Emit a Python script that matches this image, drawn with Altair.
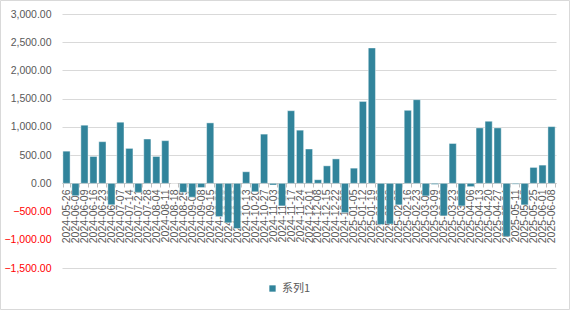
import altair as alt
import pandas as pd

dates = [
    "2024-05-26", "2024-06-02", "2024-06-09", "2024-06-16", "2024-06-23", "2024-06-30",
    "2024-07-07", "2024-07-14", "2024-07-21", "2024-07-28", "2024-08-04", "2024-08-11",
    "2024-08-18", "2024-08-25", "2024-09-01", "2024-09-08", "2024-09-15", "2024-09-22",
    "2024-09-29", "2024-10-06", "2024-10-13", "2024-10-20", "2024-10-27", "2024-11-03",
    "2024-11-10", "2024-11-17", "2024-11-24", "2024-12-01", "2024-12-08", "2024-12-15",
    "2024-12-22", "2024-12-29", "2025-01-05", "2025-01-12", "2025-01-19", "2025-01-26",
    "2025-02-02", "2025-02-09", "2025-02-16", "2025-02-23", "2025-03-02", "2025-03-09",
    "2025-03-16", "2025-03-23", "2025-03-30", "2025-04-06", "2025-04-13", "2025-04-20",
    "2025-04-27", "2025-05-04", "2025-05-11", "2025-05-18", "2025-05-25", "2025-06-01",
    "2025-06-08",
]
values = [
    570, -220, 1030, 476, 738, -380,
    1083, 619, -160, 785, 476, 756,
    0, -160, -245, -75, 1071, -590,
    -700, -800, 205, -150, 872, -30,
    -400, 1287, 942, 608, 64, 310,
    433, -520, 269, 1451, 2399, -730,
    -720, -382, 1294, 1482, -223, -20,
    -576, 706, -400, -59, 982, 1100,
    982, -940, -15, -382, 282, 323,
    1005,
]
series_name = "系列1"
y_ticks = [-1500, -1000, -500, 0, 500, 1000, 1500, 2000, 2500, 3000]

df = pd.DataFrame({"date": dates, "value": values, "series": [series_name] * len(dates)})

FONT = "Liberation Sans"
GRAY = "#595959"

bars = alt.Chart(df).mark_bar(stroke="white", strokeOpacity=0.55, strokeWidth=0.8).encode(
    x=alt.X(
        "date:N",
        sort=None,
        title=None,
        scale=alt.Scale(paddingInner=0.2, paddingOuter=0.1),
        axis=alt.Axis(
            offset=-85,
            labelAngle=-90,
            labelFontSize=10.5,
            labelFont=FONT,
            labelColor=GRAY,
            labelOverlap=False,
            labelBound=False,
            labelFlush=False,
            labelPadding=2,
            domainColor="#BFBFBF",
            tickColor="#BFBFBF",
            tickSize=4,
            tickBand="extent",
        ),
    ),
    y=alt.Y(
        "value:Q",
        title=None,
        scale=alt.Scale(domain=[-1500, 3000], nice=False),
        axis=alt.Axis(
            values=y_ticks,
            format=",.2f",
            labelFont=FONT,
            labelFontSize=10.5,
            labelColor={"condition": {"test": "datum.value < 0", "value": "#FF0000"}, "value": GRAY},
            labelPadding=11,
            domain=False,
            ticks=False,
            grid=True,
            gridColor="#D9D9D9",
            gridWidth=1,
            gridOpacity={
                "condition": {"test": "datum.value < 0 && datum.value > -1500", "value": 0},
                "value": 1,
            },
        ),
    ),
    color=alt.Color(
        "series:N",
        scale=alt.Scale(range=["#31849B"]),
        legend=alt.Legend(
            title=None,
            orient="none",
            legendX=205,
            legendY=269,
            symbolType="square",
            symbolSize=40,
            symbolStrokeWidth=0,
            labelFont="Noto Sans CJK SC",
            labelFontSize=11,
            labelColor=GRAY,
        ),
    ),
)

frame = alt.Chart(pd.DataFrame({"k": [0]})).mark_rect(
    fill=None, stroke="#D9D9D9", strokeWidth=1
).encode(
    x=alt.value(-61.5), x2=alt.value(507.5), y=alt.value(-13.5), y2=alt.value(295.5)
)

chart = alt.layer(bars, frame).properties(
    width=494,
    height=254,
    padding={"left": 62, "top": 14, "right": 14, "bottom": 42},
    autosize=alt.AutoSizeParams(type="none"),
    background="white",
).configure_view(stroke=None)

chart.save("out.html", embed_options={"renderer": "svg", "actions": False})
